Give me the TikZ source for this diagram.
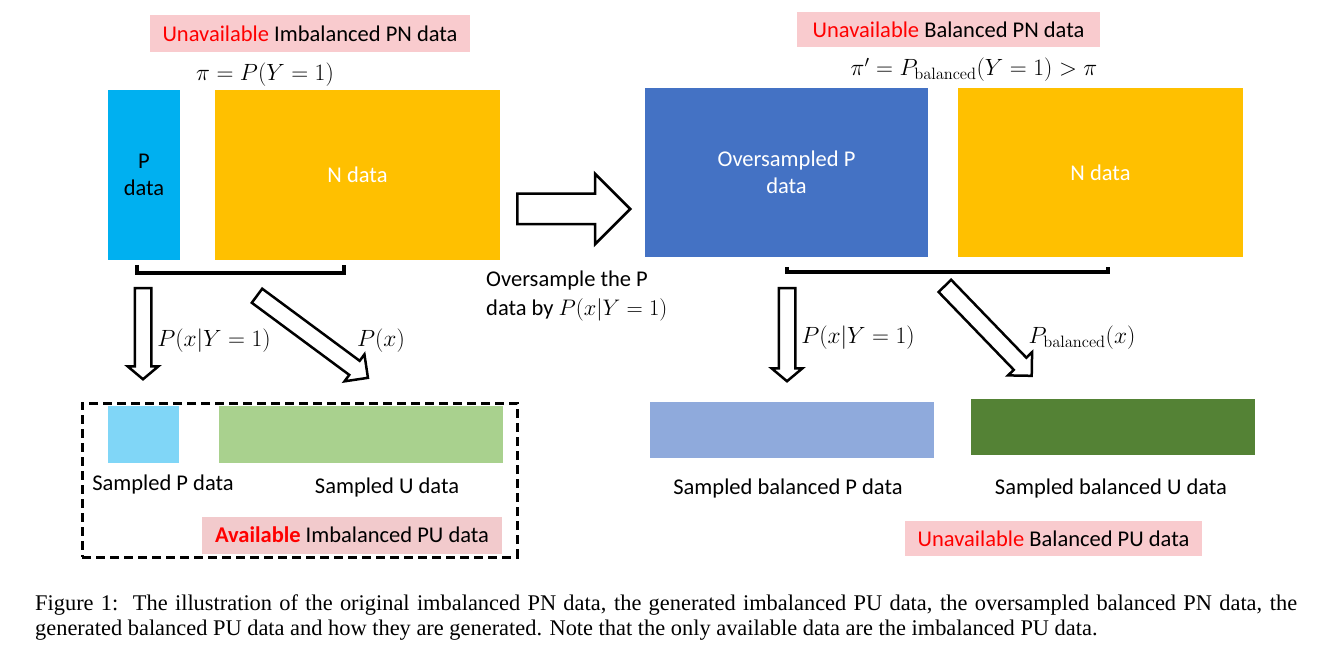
\RequirePackage{fix-cm}
\documentclass[tikz,border=0pt]{standalone}
\usepackage[no-math]{fontspec}
\setmainfont{Carlito}
\newfontfamily\capfont{Liberation Serif}
\usetikzlibrary{shapes.arrows}
\definecolor{pblue}{RGB}{0,176,240}
\definecolor{nyellow}{RGB}{255,192,0}
\definecolor{oblue}{RGB}{68,114,196}
\definecolor{lblue}{RGB}{128,214,247}
\definecolor{lgreen}{RGB}{169,209,142}
\definecolor{sblue}{RGB}{143,170,220}
\definecolor{dgreen}{RGB}{84,130,53}
\definecolor{pinkbg}{RGB}{249,203,206}
\definecolor{pinkbg2}{RGB}{242,202,204}
\definecolor{redtxt}{RGB}{255,0,0}
\begin{document}
\begin{tikzpicture}[x=1pt,y=-1pt,
  lbl/.style={font=\fontsize{22.5}{25}\selectfont, inner sep=0pt},
  mlbl/.style={font=\fontsize{23.5}{25}\selectfont, inner sep=0pt},
  databox/.style={draw=none, inner sep=0pt, font=\fontsize{22.5}{27}\selectfont, align=center},
  pinkbox/.style={fill=#1, inner sep=0pt, font=\fontsize{22.5}{25}\selectfont},
  blockarrow/.style={single arrow, draw=black, line width=2.5pt, fill=white, inner xsep=0pt, inner ysep=7pt, single arrow head extend=7pt, single arrow head indent=0pt, anchor=tail},
  brack/.style={line width=3.5pt}
]
\useasboundingbox (0,0) rectangle (1326,647);
\fill[white] (0,0) rectangle (1326,647);

% ---------- left: imbalanced PN ----------
\node[pinkbox=pinkbg, minimum width=320pt, minimum height=37pt] (t1) at (310,33.5) {\textcolor{redtxt}{Unavailable} Imbalanced PN data};
\node[mlbl] (pi) at (265,75) {$\pi = P(Y=1)$};
\node[databox, fill=pblue, minimum width=72pt, minimum height=170pt] (pd) at (144,175) {P\\data};
\node[databox, fill=nyellow, text=white, minimum width=285pt, minimum height=170pt] (nd) at (357.5,175) {N data};
\draw[brack] (137,265) -- (137,273) -- (344,273) -- (344,265);

\node[blockarrow, single arrow tip angle=100, minimum height=91pt, rotate=-90] (a1) at (143,287) {};
\node[mlbl] (l1) at (214,341) {$P(x|Y=1)$};
\node[blockarrow, inner ysep=7.5pt, single arrow head extend=8pt, single arrow tip angle=90, minimum height=138pt, rotate=-36.5] (a2) at (256,295) {};
\node[mlbl] (l2) at (381,341) {$P(x)$};

% available PU
\node[draw, line width=3pt, dash pattern=on 9pt off 5pt, minimum width=435pt, minimum height=154pt, inner sep=0pt] (avail) at (299.5,480) {};
\node[databox, fill=lblue, minimum width=71pt, minimum height=57pt] (sp) at (143.5,434.5) {};
\node[databox, fill=lgreen, minimum width=284pt, minimum height=57pt] (su) at (361,434.5) {};
\node[lbl] (spt) at (163,485) {Sampled P data};
\node[lbl] (sut) at (387,487) {Sampled U data};
\node[pinkbox=pinkbg2, minimum width=300pt, minimum height=37pt] (t2) at (352,535) {\textcolor{redtxt}{\bfseries Available} Imbalanced PU data};

% ---------- middle arrow ----------
\node[blockarrow, inner ysep=14pt, single arrow head extend=20pt, single arrow tip angle=90, minimum height=113pt] (big) at (516,209) {};
\node[lbl, anchor=base west] (ov1) at (486,287) {Oversample the P};
\node[lbl, anchor=base west] (ov2) at (486,316) {data by $\fontsize{23.5}{25}\selectfont P(x|Y=1)$};

% ---------- right: balanced PN ----------
\node[pinkbox=pinkbg, minimum width=303pt, minimum height=35pt] (t3) at (948.5,29.5) {\textcolor{redtxt}{Unavailable} Balanced PN data};
\node[mlbl] (pi2) at (974,70) {$\pi' = P_{\mathrm{balanced}}(Y=1) > \pi$};
\node[databox, fill=oblue, text=white, minimum width=283pt, minimum height=169pt] (op) at (786.5,172.5) {Oversampled P\\data};
\node[databox, fill=nyellow, text=white, minimum width=285pt, minimum height=169pt] (nd2) at (1100.5,172.5) {N data};
\draw[brack] (787,267) -- (787,272) -- (1108,272) -- (1108,267);

\node[blockarrow, single arrow tip angle=100, minimum height=93pt, rotate=-90] (a3) at (787,287) {};
\node[mlbl] (l3) at (858,338) {$P(x|Y=1)$};
\node[blockarrow, inner ysep=7.5pt, single arrow head extend=8pt, single arrow tip angle=90, minimum height=125pt, rotate=-46] (a4) at (944,285) {};
\node[mlbl] (l4) at (1082,338) {$P_{\mathrm{balanced}}(x)$};

\node[databox, fill=sblue, minimum width=284pt, minimum height=56pt] (sbp) at (792,430) {};
\node[databox, fill=dgreen, minimum width=284pt, minimum height=56pt] (sbu) at (1113,427) {};
\node[lbl] (sbpt) at (788,488) {Sampled balanced P data};
\node[lbl] (sbut) at (1111,488) {Sampled balanced U data};
\node[pinkbox=pinkbg, minimum width=297pt, minimum height=35pt] (t4) at (1053.5,538.5) {\textcolor{redtxt}{Unavailable} Balanced PU data};

% ---------- caption ----------
\node[anchor=base west, inner sep=0pt, font=\capfont\fontsize{22.4}{25}\selectfont] (cap1) at (35,610)
  {\makebox[1262pt][s]{Figure 1:\ \ The illustration of the original imbalanced PN data, the generated imbalanced PU data, the oversampled balanced PN data, the}};
\node[anchor=base west, inner sep=0pt, font=\capfont\fontsize{22.4}{25}\selectfont] (cap2) at (35,635)
  {generated balanced PU data and how they are generated. Note that the only available data are the imbalanced PU data.};
\end{tikzpicture}
\end{document}
